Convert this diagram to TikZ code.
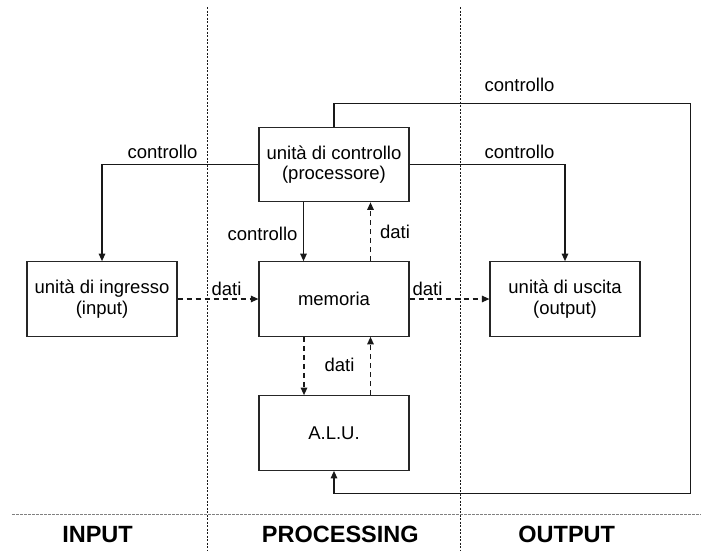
\documentclass[tikz,border=0pt]{standalone}
\usepackage{fontspec}
\setmainfont{Liberation Sans}
\usetikzlibrary{arrows.meta}
\begin{document}
\begin{tikzpicture}[x=1pt,y=-1pt,
  box/.style={draw=black!85, line width=1.2pt, minimum width=150pt, minimum height=74.5pt, inner sep=0pt, align=center, font=\fontsize{18.5}{20.5}\selectfont},
  lbl/.style={anchor=base, inner sep=0pt, font=\fontsize{18.5}{20.5}\selectfont},
  zone/.style={anchor=base, inner sep=0pt, font=\fontsize{23.5}{26}\selectfont\bfseries},
  arr/.style={line width=1.2pt, draw=black!90, -{Triangle[length=7.5pt,width=6.5pt]}},
  darr/.style={arr, dash pattern=on 5pt off 4pt},
  sepv/.style={line width=1pt, draw=black!90, dash pattern=on 2pt off 1.5pt},
  seph/.style={line width=1.2pt, draw=black!50, dash pattern=on 2.5pt off 1.5pt}]
\useasboundingbox (0,0) rectangle (701,550);

% separators
\coordinate (s1t) at (207,7);
\coordinate (s1b) at (207,550);
\coordinate (s2t) at (460,7);
\coordinate (s2b) at (460,550);
\coordinate (hl) at (12,514.3);
\coordinate (hr) at (701,514.3);
\draw[sepv] (s1t) -- (s1b);
\draw[sepv] (s2t) -- (s2b);
\draw[seph] (hl) -- (hr);

% boxes
\node[box] (ctrl) at (334,164.5) {unità di controllo\\(processore)};
\node[box] (inp) at (102,299) {unità di ingresso\\(input)};
\node[box] (mem) at (334,299) {memoria};
\node[box] (out) at (565,299) {unità di uscita\\(output)};
\node[box] (alu) at (334,433) {A.L.U.};

% control connectors
\draw[arr] (ctrl.west) -| (inp.north);
\draw[arr] (ctrl.east) -| (out.north);
\draw[arr] ([xshift=-30.5pt]ctrl.south) -- ([xshift=-30.5pt]mem.north);
\coordinate (tr) at (690.7,103.3);
\coordinate (br) at (690.7,493.3);
\draw[arr] (ctrl.north) |- (tr) -- (br) -| (alu.south);

% data connectors
\draw[darr] (inp.east) -- (mem.west);
\draw[darr] (mem.east) -- (out.west);
\draw[darr] ([xshift=36.5pt]mem.north) -- ([xshift=36.5pt]ctrl.south);
\draw[darr] ([xshift=-30pt]mem.south) -- ([xshift=-30pt]alu.north);
\draw[darr] ([xshift=36.5pt]alu.north) -- ([xshift=36.5pt]mem.south);

% labels
\node[lbl] (l1) at (162.5,158) {controllo};
\node[lbl] (l2) at (262.5,240) {controllo};
\node[lbl] (l3) at (519.5,158) {controllo};
\node[lbl] (l4) at (519.5,91) {controllo};
\node[lbl] (d1) at (395,238) {dati};
\node[lbl] (d2) at (226.5,295) {dati};
\node[lbl] (d3) at (427.5,295) {dati};
\node[lbl] (d4) at (339.5,371) {dati};

% zones
\node[zone] (zi) at (97.5,542) {INPUT};
\node[zone] (zp) at (340.3,542) {PROCESSING};
\node[zone] (zo) at (566.7,542) {OUTPUT};
\end{tikzpicture}
\end{document}
